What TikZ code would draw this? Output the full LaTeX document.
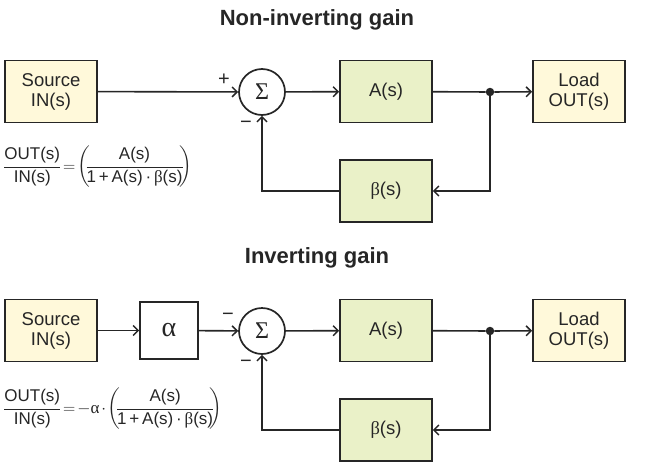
\RequirePackage{fix-cm}
\documentclass[tikz,border=0pt]{standalone}
\usepackage{amsmath}
\usepackage{fontspec}
\setmainfont{Liberation Sans}
\newfontfamily\grk{Liberation Serif}
\usetikzlibrary{arrows.meta}
\definecolor{srcfill}{HTML}{FFF9DA}
\definecolor{blkfill}{HTML}{EAF1C8}
\definecolor{ink}{HTML}{262626}
\tikzset{
  boxbase/.style={draw=ink, line width=1.7pt, minimum width=92pt, minimum height=62pt, inner sep=0pt, align=center, font=\fontsize{18.5}{20}\selectfont, text=ink},
  srcbox/.style={boxbase, fill=srcfill},
  gainbox/.style={boxbase, fill=blkfill},
  alphabox/.style={boxbase, fill=white, minimum width=58pt, minimum height=57pt},
  sumnode/.style={draw=ink, line width=1.7pt, circle, minimum size=46pt, inner sep=0pt, fill=white, font=\grk\fontsize{24}{24}\selectfont, text=ink},
  wire/.style={draw=ink, line width=1.6pt},
  arr/.style={wire, -{Straight Barb[length=5pt, width=10pt, line width=1.5pt]}},
  title/.style={font=\bfseries\fontsize{22}{24}\selectfont, text=ink},
  sign/.style={font=\fontsize{20}{20}\selectfont, text=ink, inner sep=0pt},
  formula/.style={font=\fontsize{17}{19}\selectfont, text=ink, inner sep=0pt, anchor=west},
  junction/.style={circle, fill=ink, minimum size=8.5pt, inner sep=0pt}
}
\begin{document}
\begin{tikzpicture}[x=1pt, y=-1pt]
\useasboundingbox (0,0) rectangle (650,466);
% ---------- Non-inverting ----------
\node[title] (t1) at (317,20) {Non-inverting gain};
\node[srcbox] (src1) at (51,91.5) {Source\\IN(s)};
\node[sumnode] (sum1) at (262,92) {Σ};
\node[gainbox] (a1) at (386,91.5) {A(s)};
\node[srcbox] (load1) at (579,91.5) {Load\\OUT(s)};
\node[gainbox] (b1) at (386,191) {{\grk β}(s)};
\node[junction] (j1) at (490,92) {};
\draw[arr] (src1) -- (sum1);
\draw[arr] (sum1) -- (a1);
\draw[wire] (a1) -- (j1);
\draw[arr] (j1) -- (load1);
\draw[arr] (j1.center) |- (b1.east);
\draw[arr] (b1.west) -| (sum1.south);
\node[sign] (p1) at (224,80) {+};
\node[sign] (m1) at (246,125) {−};
\node[formula] (f1) at (3,167) {$\dfrac{\text{OUT(s)}}{\text{IN(s)}}\mkern-3mu=\mkern-3mu\left(\mkern-5mu\dfrac{\text{A(s)}}{\text{1\,+\,A(s)\,·\,{\grk β}(s)}}\mkern-5mu\right)$};
% ---------- Inverting ----------
\node[title] (t2) at (317,258) {Inverting gain};
\node[srcbox] (src2) at (51,330.5) {Source\\IN(s)};
\node[alphabox] (al2) at (169,330.5) {\grk\fontsize{28}{28}\selectfont α};
\node[sumnode] (sum2) at (262,331) {Σ};
\node[gainbox] (a2) at (386,330.5) {A(s)};
\node[srcbox] (load2) at (579,330.5) {Load\\OUT(s)};
\node[gainbox] (b2) at (386,430) {{\grk β}(s)};
\node[junction] (j2) at (490,331) {};
\draw[arr] (src2) -- (al2);
\draw[arr] (al2) -- (sum2);
\draw[arr] (sum2) -- (a2);
\draw[wire] (a2) -- (j2);
\draw[arr] (j2) -- (load2);
\draw[arr] (j2.center) |- (b2.east);
\draw[arr] (b2.west) -| (sum2.south);
\node[sign] (m2a) at (228,317) {−};
\node[sign] (m2b) at (246,364) {−};
\node[formula] (f2) at (3,409) {$\dfrac{\text{OUT(s)}}{\text{IN(s)}}\mkern-3mu=\mkern-3mu-\text{\grk α}\mkern-2mu\cdot\mkern-2mu\left(\mkern-5mu\dfrac{\text{A(s)}}{\text{1\,+\,A(s)\,·\,{\grk β}(s)}}\mkern-5mu\right)$};
\end{tikzpicture}
\end{document}
